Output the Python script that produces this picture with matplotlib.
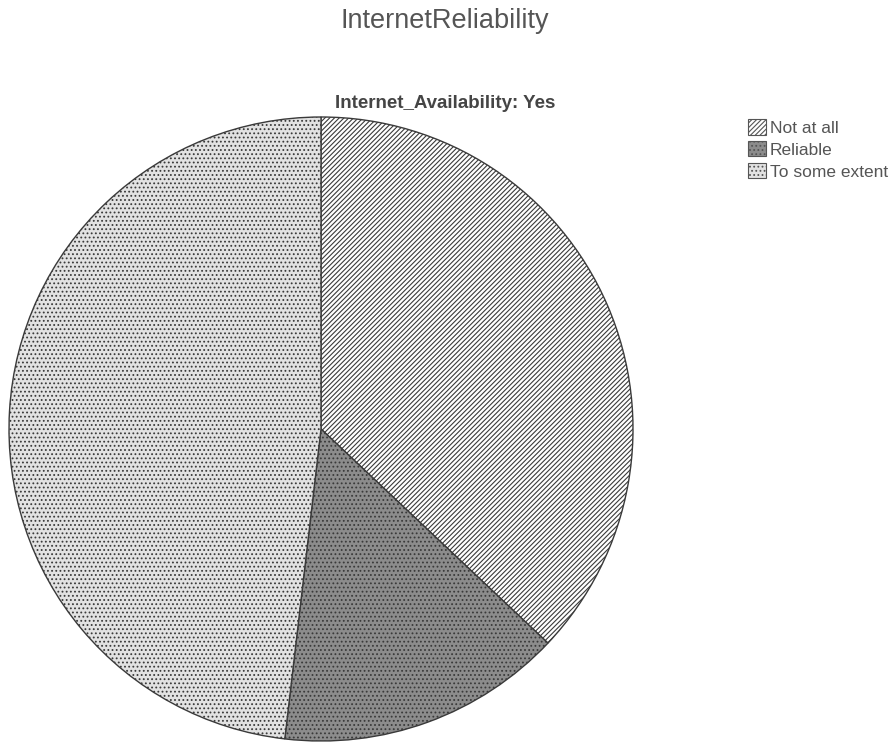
import numpy as np
import matplotlib.pyplot as plt
from matplotlib.patches import Patch

# ----------------------------
# Datos
# ----------------------------
categories = ['Not at all', 'Reliable', 'To some extent']
counts = [10, 4, 13]
face_colors = ['#ffffff', '#8c8c8c', '#e2e2e2']
hatches = ['///////', '....', '....']

plt.rcParams['font.family'] = ['Liberation Sans', 'DejaVu Sans']
plt.rcParams['hatch.color'] = '#5a5a5a'
plt.rcParams['hatch.linewidth'] = 0.8

fig = plt.figure(figsize=(8.92, 7.42), dpi=100)

# Pie axes: centro ~ (321, 429) px, radio ~ 312 px
ax = fig.add_axes([9 / 892, 1 / 742, 624 / 892, 624 / 742])
wedges, _ = ax.pie(counts, startangle=90, counterclock=False,
                   colors=face_colors, radius=1,
                   wedgeprops=dict(edgecolor='#3a3a3a', linewidth=1.0))
for w, h in zip(wedges, hatches):
    w.set_hatch(h)
ax.set_xlim(-1.0, 1.0)
ax.set_ylim(-1.0, 1.0)
ax.set_aspect('equal')
ax.axis('off')

# Títulos
fig.text(445 / 892, 1 - 28 / 742, 'InternetReliability', ha='center', va='baseline',
         fontsize=19.5, color='#555555')
fig.text(445 / 892, 1 - 103 / 742, 'Internet_Availability: Yes', ha='center',
         va='center', fontsize=13.5, fontweight='bold', color='#454545')

# Leyenda
handles = [Patch(facecolor=c, edgecolor='#555555', hatch=h, linewidth=0.8)
           for c, h in zip(face_colors, hatches)]
fig.legend(handles, categories, loc='upper left',
           bbox_to_anchor=(748 / 892, 1 - 119 / 742), frameon=False,
           fontsize=12.5, labelcolor='#555555', handlelength=1.05,
           handleheight=1.0, handletextpad=0.2, labelspacing=0.3,
           borderpad=0, borderaxespad=0)

plt.savefig('out.png', dpi=100)
